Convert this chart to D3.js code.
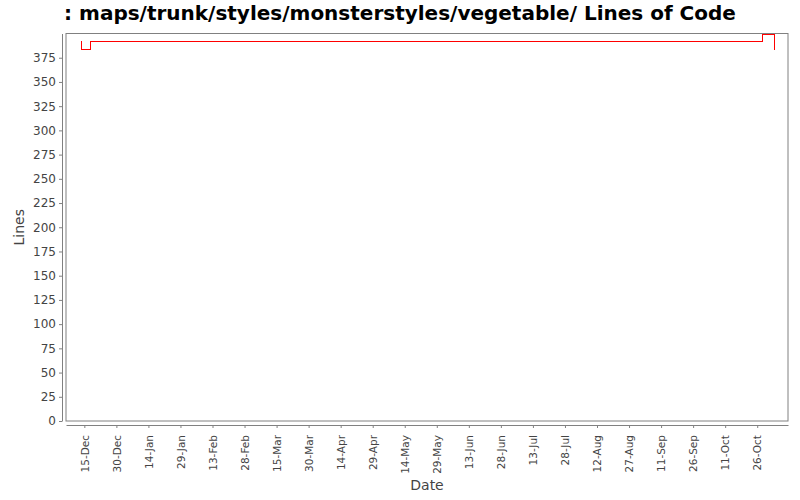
<!DOCTYPE html>
<meta charset="utf-8">
<style>
    body {
        margin: 0;
        overflow: hidden;
        background: #fff;
    }

    text {
        font-family: "DejaVu Sans", sans-serif;
    }
</style>
<div id="container"></div>
<script src="https://cdn.jsdelivr.net/npm/d3@7"></script>
<script>
    // Chart values
    const title = ": maps/trunk/styles/monsterstyles/vegetable/ Lines of Code";
    const xLabel = "Date";
    const yLabel = "Lines";

    const dates = ["2006-12-13T12:00", "2006-12-13T12:00", "2006-12-17T16:00", "2007-10-28T14:00", "2007-11-03T02:00"];
    const lines = [392, 383, 392, 399, 383];

    const xTicks = ["2006-12-15", "2006-12-30", "2007-01-14", "2007-01-29", "2007-02-13", "2007-02-28",
        "2007-03-15", "2007-03-30", "2007-04-14", "2007-04-29", "2007-05-14", "2007-05-29",
        "2007-06-13", "2007-06-28", "2007-07-13", "2007-07-28", "2007-08-12", "2007-08-27",
        "2007-09-11", "2007-09-26", "2007-10-11", "2007-10-26"];
    const yTicks = [0, 25, 50, 75, 100, 125, 150, 175, 200, 225, 250, 275, 300, 325, 350, 375];
    const xDomain = ["2006-12-06T10:00", "2007-11-09T10:00"];
    const yDomain = [0, 400];

    const width = 800, height = 500;
    // plot area box
    const plot = {left: 66, right: 788, top: 33.5, bottom: 421};

    const parse = d3.timeParse("%Y-%m-%dT%H:%M");
    const parseDay = d3.timeParse("%Y-%m-%d");
    const data = dates.map((d, i) => ({date: parse(d), value: lines[i]}));

    const x = d3.scaleTime()
        .domain(xDomain.map(parse))
        .range([plot.left, plot.right]);
    const y = d3.scaleLinear()
        .domain(yDomain)
        .range([plot.bottom, plot.top]);

    const svg = d3.select("#container").append("svg")
        .attr("width", width)
        .attr("height", height);

    svg.append("rect")
        .attr("width", width)
        .attr("height", height)
        .attr("fill", "#fff");

    // title
    svg.append("text")
        .attr("x", 400)
        .attr("y", 20)
        .attr("text-anchor", "middle")
        .attr("font-size", 20)
        .attr("font-weight", "bold")
        .attr("fill", "#000")
        .text(title);

    // plot border
    svg.append("rect")
        .attr("x", plot.left)
        .attr("y", plot.top)
        .attr("width", plot.right - plot.left)
        .attr("height", plot.bottom - plot.top)
        .attr("fill", "#fff")
        .attr("stroke", "#808080")
        .attr("stroke-width", 1);

    // y axis, offset a few px left of the plot
    const yAxis = svg.append("g")
        .attr("transform", `translate(${plot.left - 4},0)`)
        .call(d3.axisLeft(y).tickValues(yTicks).tickSize(3).tickPadding(3).tickSizeOuter(0));

    // x axis, offset a few px below the plot
    const xAxis = svg.append("g")
        .attr("transform", `translate(0,${plot.bottom + 4})`)
        .call(d3.axisBottom(x)
            .tickValues(xTicks.map(parseDay))
            .tickFormat(d3.timeFormat("%d-%b"))
            .tickSize(3)
            .tickSizeOuter(0));

    [yAxis, xAxis].forEach(g => {
        g.select(".domain").attr("stroke", "#808080");
        g.selectAll(".tick line").attr("stroke", "#808080");
        g.selectAll(".tick text")
            .attr("fill", "#444")
            .attr("font-family", "DejaVu Sans, sans-serif");
    });
    yAxis.selectAll(".tick text").attr("font-size", 12);

    xAxis.selectAll(".tick text")
        .attr("font-size", 10.5)
        .attr("text-anchor", "end")
        .attr("dy", "0.35em")
        .attr("transform", "rotate(-90)")
        .attr("x", -10)
        .attr("y", 0);

    // axis titles
    svg.append("text")
        .attr("x", (plot.left + plot.right) / 2)
        .attr("y", 490)
        .attr("text-anchor", "middle")
        .attr("font-size", 14)
        .attr("fill", "#444")
        .text(xLabel);

    svg.append("text")
        .attr("transform", `translate(24,${(plot.top + plot.bottom) / 2}) rotate(-90)`)
        .attr("text-anchor", "middle")
        .attr("font-size", 14)
        .attr("fill", "#444")
        .text(yLabel);

    // the line, drawn as steps
    const line = d3.line()
        .x(d => x(d.date))
        .y(d => y(d.value))
        .curve(d3.curveStepAfter);

    svg.append("path")
        .datum(data)
        .attr("d", line)
        .attr("fill", "none")
        .attr("stroke", "#ff0000")
        .attr("stroke-width", 1)
        .attr("shape-rendering", "crispEdges");
</script>
